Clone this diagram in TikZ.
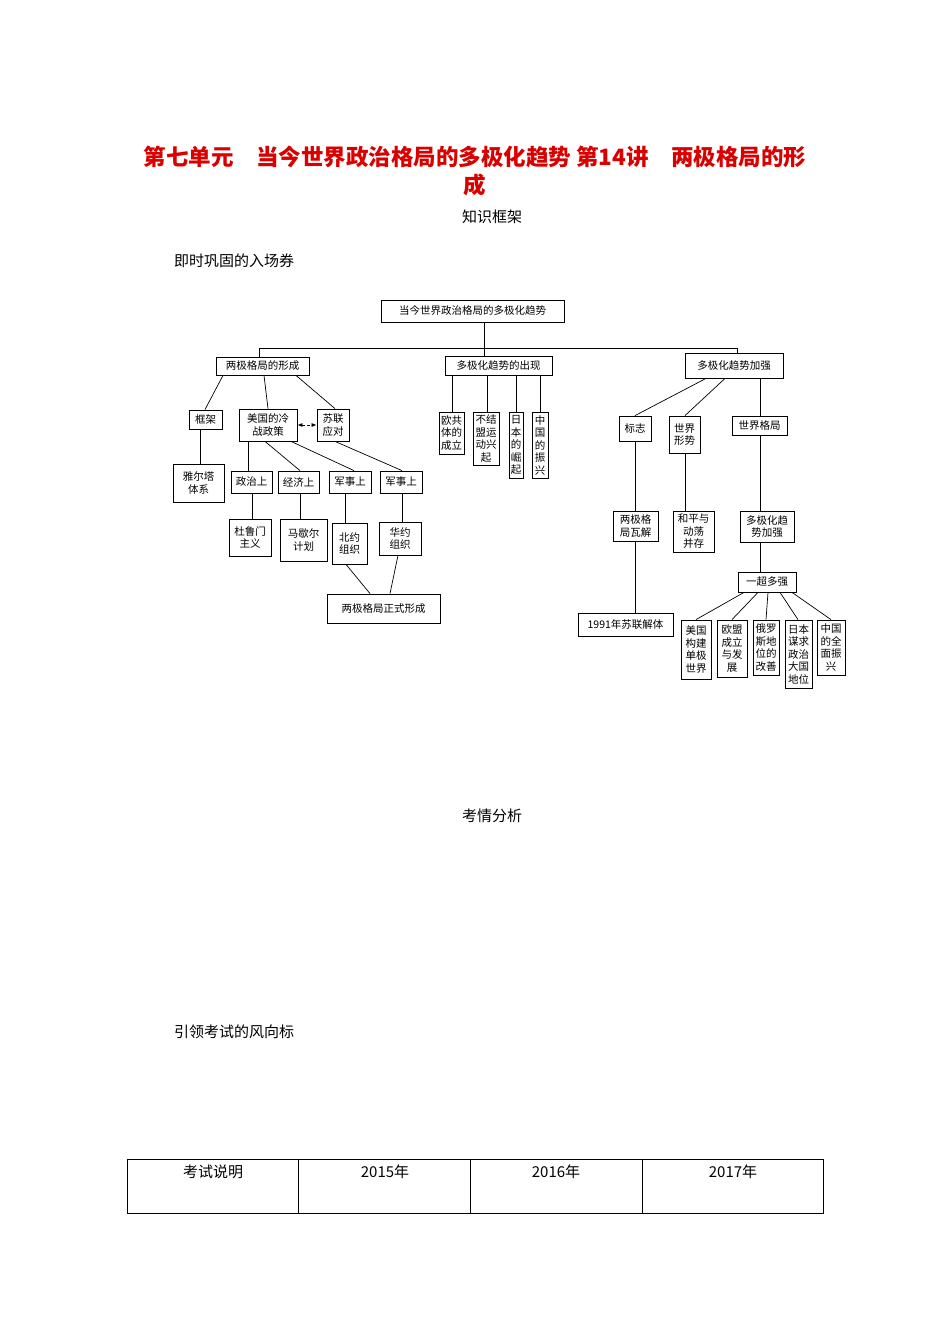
\documentclass[tikz,border=0pt]{standalone}
\usepackage{fontspec}
\setmainfont{Noto Sans CJK SC}
\usetikzlibrary{arrows.meta}
\newcommand\bx[6]{\node[bx,minimum width={(#4-#2)*1pt},minimum height={(#5-#3)*1pt}] (#1) at ({(#2+#4)/2},{(#3+#5)/2}) {#6};}
\newcommand\lk[4]{\draw[ln] (#2,0 |- #1.south) -- (#4,0 |- #3.north);}
\begin{document}
\begin{tikzpicture}[x=1pt,y=-1pt,
 bx/.style={draw,line width=0.8pt,inner sep=0pt,align=center,font=\fontsize{10.5}{12.5}\selectfont},
 ln/.style={line width=0.7pt},
 txt/.style={font=\fontsize{15}{18}\selectfont,inner sep=0pt}]
\useasboundingbox (0,0) rectangle (950,1344);
\node[font=\bfseries\fontsize{22.5}{26}\selectfont,text=red!85!black,inner sep=0pt] (t1) at (475,157) {第七单元\quad 当今世界政治格局的多极化趋势 第14讲\quad 两极格局的形};
\node[font=\bfseries\fontsize{22.5}{26}\selectfont,text=red!85!black,inner sep=0pt] (t2) at (475,185) {成};
\node[txt] (h1) at (492,217) {知识框架};
\node[txt,anchor=west] (h2) at (174,261) {即时巩固的入场券};
\node[txt] (h3) at (492,816) {考情分析};
\node[txt,anchor=west] (h4) at (174,1032) {引领考试的风向标};
% diagram
\bx{top}{381}{300}{564}{322}{当今世界政治格局的多极化趋势}
\bx{lj}{216}{357}{309}{375}{两极格局的形成}
\bx{dj}{445}{356}{552}{375}{多极化趋势的出现}
\bx{jq}{685}{353}{783}{378}{多极化趋势加强}
\coordinate (busl) at (259,348);
\coordinate (busr) at (737,348);
\lk{top}{484}{dj}{484}
\draw[ln] (busl) -- (busr);
\draw[ln] (busl) -- (busl |- lj.north);
\draw[ln] (busr) -- (busr |- jq.north);
\bx{kj}{189}{410}{222}{429}{框架}
\bx{mg}{239}{409}{297}{441}{美国的冷\\战政策}
\bx{sl}{317}{409}{349}{441}{苏联\\应对}
\bx{ye}{173}{464}{224}{502}{雅尔塔\\体系}
\bx{zz}{231}{471}{272}{493}{政治上}
\bx{jj}{278}{471}{319}{493}{经济上}
\bx{js1}{329}{471}{371}{493}{军事上}
\bx{js2}{380}{471}{422}{493}{军事上}
\bx{dl}{229}{519}{271}{556}{杜鲁门\\主义}
\bx{me}{280}{519}{327}{561}{马歇尔\\计划}
\bx{by}{332}{523}{367}{564}{北约\\组织}
\bx{hy}{379}{522}{421}{555}{华约\\组织}
\bx{zs}{327}{594}{440}{623}{两极格局正式形成}
\lk{lj}{223}{kj}{205}
\lk{lj}{264}{mg}{268}
\lk{lj}{296}{sl}{335}
\lk{kj}{200}{ye}{200}
\lk{mg}{248}{zz}{248}
\lk{mg}{265}{jj}{300}
\lk{mg}{291}{js1}{354}
\lk{sl}{335}{js2}{402}
\lk{zz}{252}{dl}{252}
\lk{jj}{300}{me}{300}
\lk{js1}{345}{by}{345}
\lk{js2}{402}{hy}{402}
\lk{by}{346}{zs}{370}
\lk{hy}{398}{zs}{390}
\draw[ln,densely dashed,{Latex[length=5pt,width=4pt]}-{Latex[length=5pt,width=4pt]}] (mg.east |- 0,425) -- (sl.west |- 0,425);
% middle
\bx{oj}{439}{412}{464}{454}{欧共\\体的\\成立}
\bx{bj}{473}{412}{499}{465}{不结\\盟运\\动兴\\起}
\bx{rb}{509}{412}{523}{478}{日\\本\\的\\崛\\起}
\bx{zg}{532}{412}{548}{478}{中\\国\\的\\振\\兴}
\lk{dj}{452}{oj}{452}
\lk{dj}{487}{bj}{487}
\lk{dj}{516}{rb}{516}
\lk{dj}{540}{zg}{540}
% right
\bx{bz}{619}{416}{651}{441}{标志}
\bx{sx}{669}{416}{700}{453}{世界\\形势}
\bx{sg}{732}{416}{787}{435}{世界格局}
\bx{wj}{613}{511}{658}{541}{两极格\\局瓦解}
\bx{hp}{673}{511}{714}{552}{和平与\\动荡\\并存}
\bx{dq}{740}{511}{794}{542}{多极化趋\\势加强}
\bx{yc}{738}{572}{796}{592}{一超多强}
\bx{sj}{578}{613}{673}{636}{1991年苏联解体}
\bx{a1}{681}{620}{711}{679}{美国\\构建\\单极\\世界}
\bx{a2}{717}{620}{747}{677}{欧盟\\成立\\与发\\展}
\bx{a3}{753}{620}{779}{675}{俄罗\\斯地\\位的\\改善}
\bx{a4}{785}{620}{812}{688}{日本\\谋求\\政治\\大国\\地位}
\bx{a5}{817}{620}{845}{675}{中国\\的全\\面振\\兴}
\lk{jq}{706}{bz}{635}
\lk{jq}{725}{sx}{685}
\lk{jq}{760}{sg}{760}
\lk{bz}{635}{wj}{635}
\lk{sx}{685}{hp}{685}
\lk{sg}{760}{dq}{760}
\lk{dq}{760}{yc}{760}
\lk{wj}{635}{sj}{635}
\lk{yc}{744}{a1}{696}
\lk{yc}{758}{a2}{732}
\lk{yc}{768}{a3}{766}
\lk{yc}{780}{a4}{798}
\lk{yc}{792}{a5}{831}
% table
\draw[line width=0.8pt] (127,1159) rectangle (823,1213);
\foreach \x/\n in {298/c1,470/c2,642/c3} \draw[line width=0.8pt] (\x,1159) coordinate (\n) -- (\x,1213);
\node[txt] (k1) at (213,1172) {考试说明};
\node[txt] (k2) at (385,1172) {2015年};
\node[txt] (k3) at (556,1172) {2016年};
\node[txt] (k4) at (733,1172) {2017年};
\end{tikzpicture}
\end{document}
